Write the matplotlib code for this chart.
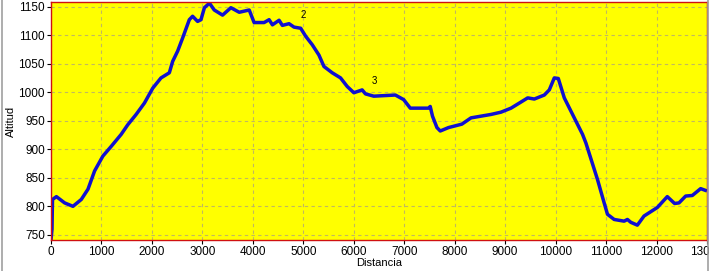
import matplotlib
matplotlib.use("Agg")
import matplotlib.pyplot as plt
from matplotlib.lines import Line2D

# perfil: distancia (m) / altitud (m)
distancia = [0, 20, 25, 30, 107, 270, 435, 600, 733, 864, 1028, 1193, 1390, 1522,
             1687, 1852, 2016, 2180, 2345, 2411, 2510, 2609, 2741, 2806, 2905, 2972,
             3040, 3140, 3235, 3400, 3565, 3730, 3928, 4025, 4223, 4322, 4388, 4520,
             4585, 4717, 4816, 4948, 5047, 5178, 5310, 5409, 5573, 5738, 5870, 6002,
             6166, 6232, 6396, 6824, 6988, 7120, 7482, 7515, 7560, 7648, 7714, 7878,
             8142, 8324, 8720, 8918, 9116, 9282, 9447, 9578, 9776, 9875, 9974, 10053,
             10172, 10336, 10534, 10600, 10830, 10962, 11028, 11160, 11358, 11423,
             11490, 11620, 11752, 12016, 12213, 12358, 12445, 12577, 12709, 12874, 12967]
altitud = [741, 760, 790, 812, 817, 806, 800, 812, 830, 862, 888, 905, 926, 943,
           961, 981, 1007, 1025, 1034, 1054, 1072, 1095, 1127, 1133, 1124, 1127,
           1148, 1156, 1144, 1135, 1148, 1140, 1144, 1122, 1122, 1127, 1118, 1126,
           1117, 1120, 1114, 1112, 1098, 1083, 1065, 1045, 1034, 1025, 1010, 999,
           1004, 997, 993, 995, 987, 972, 972, 975, 958, 938, 932, 938,
           944, 955, 961, 965, 972, 981, 990, 988, 995, 1004, 1025, 1024,
           990, 961, 926, 911, 847, 806, 786, 777, 774, 777,
           772, 767, 783, 798, 817, 805, 806, 818, 819, 831, 828]

# puntos de paso
marcas = ["2", "3"]
marcas_x = [4950, 6355]
marcas_y = [1126, 1010]

fig = plt.figure(figsize=(7.09, 2.71), dpi=100)
ax = fig.add_axes([51/709, 31/271, 656/709, 238/271])

ax.set_facecolor("#FFFF00")
ax.plot(distancia, altitud, color="#1010D0", linewidth=2.5, solid_joinstyle="round")
for t, x, y in zip(marcas, marcas_x, marcas_y):
    ax.text(x, y, t, fontsize=7, family="Liberation Sans", ha="left", va="bottom")

ax.set_xlim(0, 13000)
ax.set_ylim(741, 1158)
ax.set_xticks(range(0, 13001, 1000))
ax.set_yticks(range(750, 1151, 50))
ax.grid(True, color="#C0B860", linestyle=(0, (3, 3)), linewidth=0.8)
ax.set_axisbelow(True)
for s in ax.spines.values():
    s.set_color("#D01010")
    s.set_linewidth(1)
ax.tick_params(axis="both", labelsize=8.5, length=3, pad=1.5)
for lbl in ax.get_xticklabels() + ax.get_yticklabels():
    lbl.set_family("Liberation Sans")

ax.set_xlabel("Distancia", fontsize=8, family="Liberation Sans", labelpad=0)
ax.set_ylabel("Altitud", fontsize=8, family="Liberation Sans")
ax.yaxis.set_label_coords(-0.054, 0.5)

# bordes grises de la ventana
fig.add_artist(Line2D([1.5/709, 1.5/709], [0, 1], color="#A0A0A0", linewidth=1.2))
fig.add_artist(Line2D([707.5/709, 707.5/709], [0, 1], color="#A0A0A0", linewidth=1.2))

fig.savefig("out.png", dpi=100)
